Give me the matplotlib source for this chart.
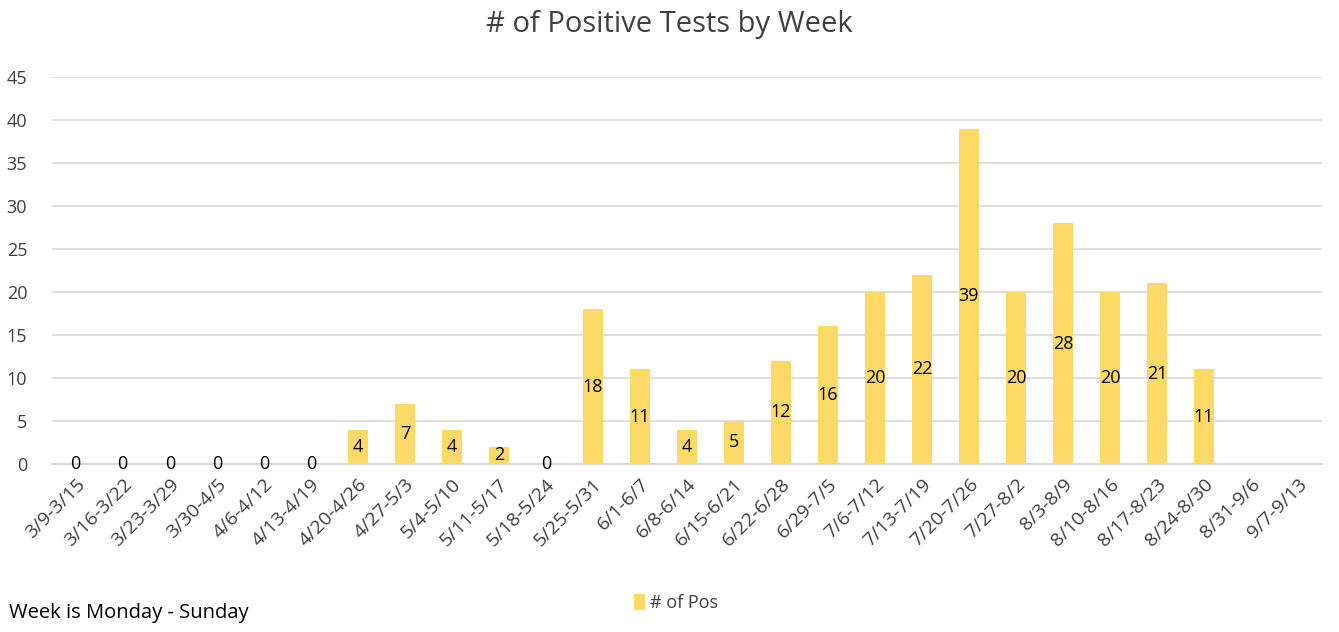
import matplotlib
matplotlib.use("Agg")
import matplotlib.pyplot as plt
import numpy as np

# weekly data
weeks = ["3/9-3/15", "3/16-3/22", "3/23-3/29", "3/30-4/5", "4/6-4/12", "4/13-4/19",
         "4/20-4/26", "4/27-5/3", "5/4-5/10", "5/11-5/17", "5/18-5/24", "5/25-5/31",
         "6/1-6/7", "6/8-6/14", "6/15-6/21", "6/22-6/28", "6/29-7/5", "7/6-7/12",
         "7/13-7/19", "7/20-7/26", "7/27-8/2", "8/3-8/9", "8/10-8/16", "8/17-8/23",
         "8/24-8/30", "8/31-9/6", "9/7-9/13"]
positives = [0, 0, 0, 0, 0, 0, 4, 7, 4, 2, 0, 18, 11, 4, 5, 12, 16, 20, 22, 39,
             20, 28, 20, 21, 11]
yticks = [0, 5, 10, 15, 20, 25, 30, 35, 40, 45]

plt.rcParams['font.family'] = ['Open Sans', 'DejaVu Sans']

fig = plt.figure(figsize=(13.39, 6.32), dpi=100)
ax = fig.add_axes([0.039, 0.266, 0.948, 0.612])

x = np.arange(len(positives))
bars = ax.bar(x, positives, width=0.42, color="#FFD966", label="# of Pos", zorder=2)

for xi, v in zip(x, positives):
    ax.text(xi, v / 2, str(v), ha="center", va="center", fontsize=13, color="black", zorder=3)

ax.set_xlim(-0.5, len(weeks) - 0.5)
ax.set_ylim(0, 45)
ax.set_yticks(yticks)
ax.set_xticks(np.arange(len(weeks)))
ax.set_xticklabels(weeks, rotation=45, ha="right", rotation_mode="anchor", fontsize=14, color="#404040")
ax.tick_params(axis="y", labelsize=13, labelcolor="#404040", length=0, pad=18)
ax.tick_params(axis="x", length=0, pad=8)
ax.grid(axis="y", color="#D9D9D9", linewidth=1.2, zorder=0)
for s in ["top", "right", "left"]:
    ax.spines[s].set_visible(False)
ax.spines["bottom"].set_color("#D9D9D9")
ax.spines["bottom"].set_linewidth(1.5)

fig.text(0.5, 0.962, "# of Positive Tests by Week", ha="center", va="center", fontsize=21, color="#404040")
fig.text(0.007, 0.03, "Week is Monday - Sunday", ha="left", va="center", fontsize=14.5, color="black")
fig.legend(handles=[bars], loc="center", bbox_to_anchor=(0.505, 0.046), frameon=False,
           fontsize=13, handlelength=0.6, handleheight=1.0, handletextpad=0.3, labelcolor="#404040")

fig.savefig("out.png", dpi=100, facecolor="white")
